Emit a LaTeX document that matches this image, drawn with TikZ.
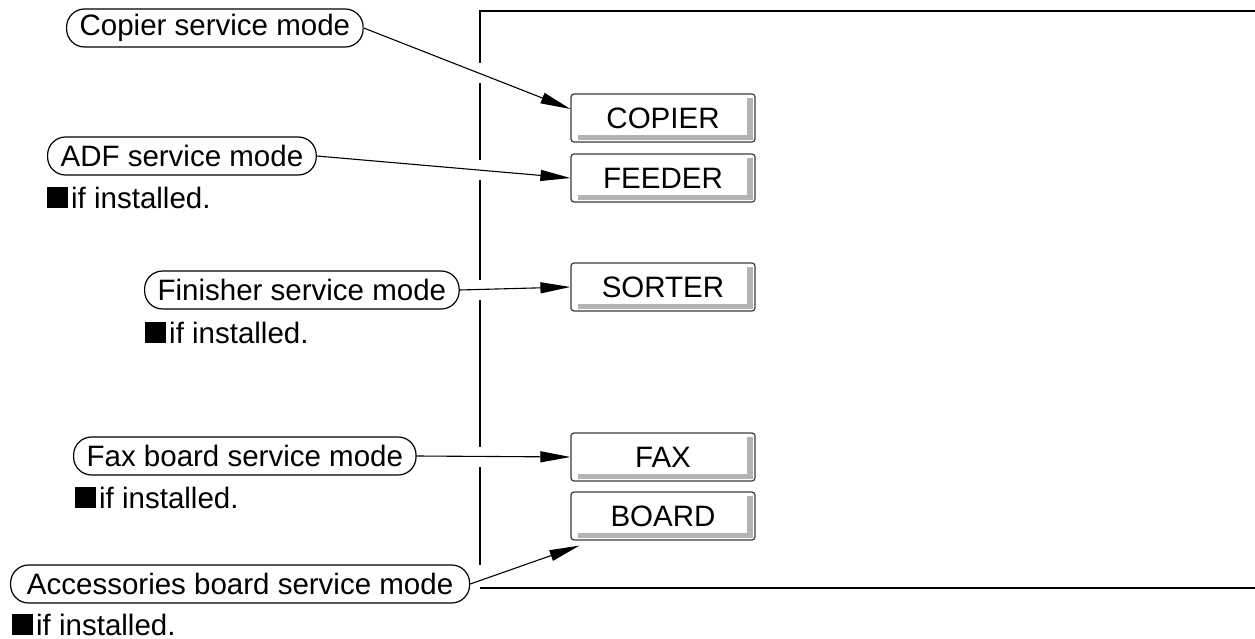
\documentclass[tikz,border=0pt]{standalone}
\usepackage{fontspec}
\setmainfont{Liberation Sans}
\usetikzlibrary{arrows.meta}
\definecolor{ink}{HTML}{000000}
\definecolor{edge}{HTML}{3A3A3A}
\definecolor{bevel}{HTML}{B3B3B3}
\newcommand{\panelfont}{\fontsize{29.5}{34}\selectfont}
\newcommand{\instmark}{\rule{21pt}{21pt}\hspace{3pt}}
\tikzset{
  keybox/.style={draw=edge, fill=white, rounded corners=3pt, line width=1.2pt,
                 minimum width=184pt, minimum height=48pt, inner sep=0pt, font=\panelfont,
                 path picture={
                   \fill[bevel, sharp corners]
                     ([xshift=7pt,yshift=2pt]path picture bounding box.south west)
                     rectangle ([xshift=-2pt,yshift=7pt]path picture bounding box.south east);
                   \fill[bevel, sharp corners]
                     ([xshift=-8pt,yshift=2pt]path picture bounding box.south east)
                     rectangle ([xshift=-2pt,yshift=-4pt]path picture bounding box.north east);
                 }},
  note/.style={draw=ink, rounded corners=18pt, line width=1.2pt, minimum height=38pt,
               inner xsep=13pt, inner ysep=0pt, anchor=west, font=\panelfont},
  installed/.style={anchor=base west, inner sep=0pt, font=\panelfont},
  link/.style={-{Triangle[length=30pt,width=11pt]}, line width=1.1pt, draw=ink},
  frame/.style={line width=2pt, draw=ink}
}
\begin{document}
\begin{tikzpicture}[x=1pt,y=-1pt]
        \useasboundingbox (0,0) rectangle (1255,639);
        \draw[frame] (1255,11) -- (480,11) -- (480,63);
        \foreach \a/\b in {83/160,180/280,300/447,467/565}
          \draw[frame] (480,\a) -- (480,\b);
        \draw[frame] (480,588) -- (1255,588);

        \node[keybox] (copierbtn) at (663,118) {COPIER};
        \node[keybox] (feederbtn) at (663,178) {FEEDER};
        \node[keybox] (sorterbtn) at (663,287) {SORTER};
        \node[keybox] (faxbtn) at (663,457) {FAX};
        \node[keybox] (boardbtn) at (663,516) {BOARD};

        \node[note] (copiernote) at (66,28) {Copier service mode};
        \node[note] (adfnote) at (47,156) {ADF service mode\hspace{12pt}};
        \node[note] (finishernote) at (144,290) {Finisher service mode};
        \node[note] (faxnote) at (73,456) {Fax board service mode};
        \node[note, minimum width=459pt] (accnote) at (10,584) {Accessories board service mode};

        \node[installed] (adfinst) at (47,208) {\instmark if installed.};
        \node[installed] (finisherinst) at (145,343) {\instmark if installed.};
        \node[installed] (faxinst) at (75,508) {\instmark if installed.};
        \node[installed] (accinst) at (12,635) {\instmark if installed.};

        \draw[link] (copiernote.east) -- ([yshift=9pt]copierbtn.west);
        \draw[link] (adfnote.east) -- (feederbtn.west);
        \draw[link] (finishernote.east) -- (sorterbtn.west);
        \draw[link] (faxnote.east) -- (faxbtn.west);
        \draw[link] (accnote.east) -- ([xshift=9pt,yshift=-5pt]boardbtn.south west);
      \end{tikzpicture}
\end{document}
